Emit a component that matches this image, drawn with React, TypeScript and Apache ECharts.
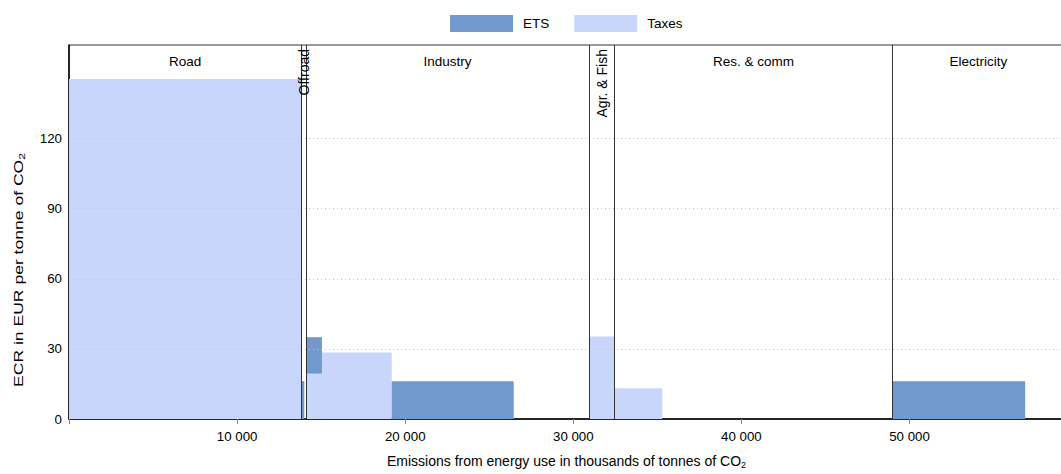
import React, { useEffect, useRef } from "react";
import * as echarts from "echarts";

// ---- data ----
const X_MAX = 59190;
const Y_MAX = 160;
const yTicks = [0, 30, 60, 90, 120];
const xTickLabels = [10000, 20000, 30000, 40000, 50000];

const sectorNames = ["Road", "Offroad", "Industry", "Agr. & Fish", "Res. & comm", "Electricity"];
const sectorBounds = [0, 13820, 14098, 30943, 32444, 48992, X_MAX];
const sectorRotated = [false, true, false, true, false, false];

// ETS blocks: [start, end, bottom, top]
const etsStart = [13820, 14098, 19199, 48992];
const etsEnd = [13998, 15047, 26453, 56880];
const etsBottom = [0, 19.4, 0, 0];
const etsTop = [16.2, 35, 16.2, 16.2];

// Taxes blocks
const taxStart = [0, 14098, 15047, 30943, 32444];
const taxEnd = [13820, 15047, 19199, 32444, 35290];
const taxBottom = [0, 0, 0, 0, 0];
const taxTop = [145.5, 19.4, 28.5, 35.3, 13.2];

const ETS_COLOR = "#7199CD";
const TAX_COLOR = "#C8D6FC";
const FONT = "'Liberation Sans', Arial, sans-serif";

function blocks(s: number[], e: number[], b: number[], t: number[]) {
  return s.map((v, i) => [v, e[i], b[i], t[i]]);
}

function rectRenderer(color: string) {
  return (params: any, api: any) => {
    const p0 = api.coord([api.value(0), api.value(3)]);
    const p1 = api.coord([api.value(1), api.value(2)]);
    return {
      type: "rect",
      shape: { x: p0[0], y: p0[1], width: p1[0] - p0[0], height: p1[1] - p0[1] },
      style: { fill: color },
    };
  };
}

export default function App() {
  const ref = useRef<HTMLDivElement>(null);
  useEffect(() => {
    if (!ref.current) return;
    const chart = echarts.init(ref.current, undefined, { renderer: "svg" });
    const sectorData = sectorNames.map((n, i) => [
      (sectorBounds[i] + sectorBounds[i + 1]) / 2,
      i,
    ]);
    const option: any = {
      animation: false,
      textStyle: { fontFamily: FONT },
      legend: {
        data: ["ETS", "Taxes"],
        left: 450,
        top: 15,
        padding: 0,
        icon: "rect",
        itemWidth: 63,
        itemHeight: 17,
        itemGap: 25,
        textStyle: { fontSize: 13.5, color: "#000", fontFamily: FONT, padding: [0, 0, 0, 5] },
      },
      grid: {
        left: 69,
        right: 0,
        top: 45,
        bottom: 52,
        show: true,
        borderColor: "#333",
        borderWidth: 1,
        backgroundColor: "transparent",
      },
      xAxis: {
        type: "value",
        min: 0,
        max: X_MAX,
        interval: 10000,
        name: "Emissions from energy use in thousands of tonnes of CO{sub|2}",
        nameLocation: "middle",
        nameGap: 34,
        nameTextStyle: {
          fontSize: 14,
          color: "#000",
          fontFamily: FONT,
          rich: { sub: { fontSize: 9, padding: [7, 0, 0, 0], fontFamily: FONT, color: "#000" } },
        },
        axisLine: { show: true, onZero: false, lineStyle: { color: "#000", width: 1.5 } },
        axisTick: { show: true, length: 5, lineStyle: { color: "#888" } },
        splitLine: { show: false },
        axisLabel: {
          fontSize: 13.3,
          color: "#000",
          margin: 11,
          fontFamily: FONT,
          formatter: (v: number) =>
            xTickLabels.indexOf(v) >= 0 ? String(v).replace(/\B(?=(\d{3})+(?!\d))/g, " ") : "",
        },
      },
      yAxis: {
        type: "value",
        min: 0,
        max: Y_MAX,
        interval: 30,
        axisLine: { show: true, lineStyle: { color: "#000", width: 1.5 } },
        axisTick: { show: false },
        splitLine: { show: false },
        axisLabel: {
          fontSize: 13.3,
          color: "#000",
          margin: 7,
          fontFamily: FONT,
          formatter: (v: number) => (yTicks.indexOf(v) >= 0 ? String(v) : ""),
        },
      },
      graphic: [
        {
          type: "text",
          x: 18,
          y: 270,
          rotation: Math.PI / 2,
          scaleX: 1.35,
          scaleY: 1,
          style: {
            text: "ECR in EUR per tonne of CO{sub|2}",
            fontSize: 13,
            fill: "#000",
            fontFamily: FONT,
            align: "center",
            verticalAlign: "middle",
            rich: { sub: { fontSize: 9, padding: [7, 0, 0, 0], fontFamily: FONT, fill: "#000" } },
          },
        },
      ],
      series: [
        {
          type: "line",
          name: "grid",
          data: [],
          z: 1,
          silent: true,
          markLine: {
            silent: true,
            symbol: "none",
            label: { show: false },
            lineStyle: { color: "#c4c4c4", type: [1, 3], width: 1 },
            data: yTicks.filter((v) => v > 0).map((v) => ({ yAxis: v })),
          },
        },
        {
          type: "custom",
          name: "Taxes",
          itemStyle: { color: TAX_COLOR },
          renderItem: rectRenderer(TAX_COLOR),
          data: blocks(taxStart, taxEnd, taxBottom, taxTop),
          encode: { x: [0, 1], y: [2, 3] },
          z: 2,
        },
        {
          type: "custom",
          name: "ETS",
          itemStyle: { color: ETS_COLOR },
          renderItem: rectRenderer(ETS_COLOR),
          data: blocks(etsStart, etsEnd, etsBottom, etsTop),
          encode: { x: [0, 1], y: [2, 3] },
          z: 3,
        },
        {
          type: "custom",
          name: "sectors",
          silent: true,
          z: 5,
          data: sectorData,
          encode: { x: 0 },
          renderItem: (params: any, api: any) => {
            const i = api.value(1);
            const p = api.coord([api.value(0), Y_MAX]);
            const rot = sectorRotated[i];
            return {
              type: "text",
              x: p[0],
              y: rot ? p[1] + 4 : p[1] + 16,
              rotation: rot ? Math.PI / 2 : 0,
              style: {
                text: sectorNames[i],
                fontSize: rot ? 14 : 13.5,
                fontFamily: FONT,
                fill: "#000",
                align: rot ? "right" : "center",
                verticalAlign: "middle",
              },
            };
          },
          markLine: {
            silent: true,
            symbol: "none",
            label: { show: false },
            lineStyle: { color: "#333", type: "solid", width: 1 },
            data: sectorBounds.slice(1, -1).map((v) => ({ xAxis: v })),
          },
        },
      ],
    };
    chart.setOption(option);
    return () => chart.dispose();
  }, []);
  return (
    <div
      ref={ref}
      style={{ position: "fixed", left: 0, top: 0, width: 1067, height: 474, background: "#fff" }}
    />
  );
}
